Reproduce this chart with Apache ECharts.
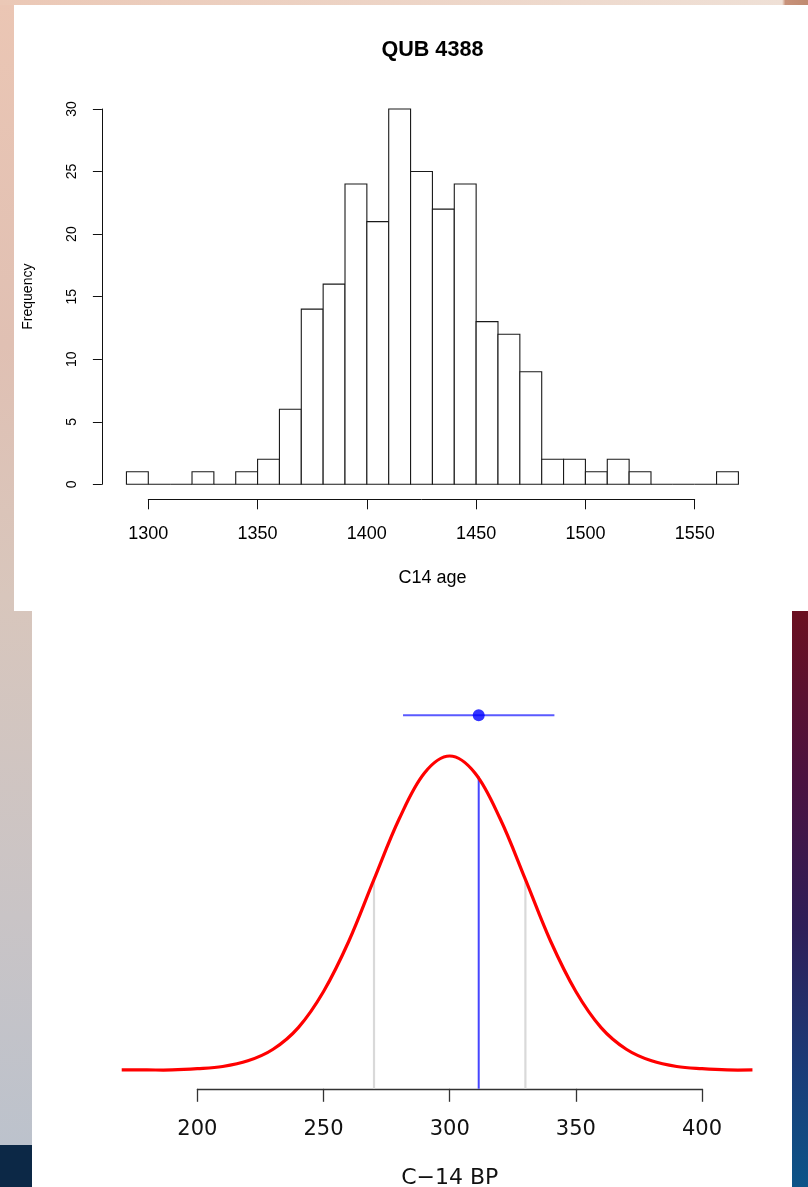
<!DOCTYPE html>
<html><head><meta charset="utf-8">
<script src="https://cdn.jsdelivr.net/npm/echarts@6/dist/echarts.min.js"></script>
<style>html,body{margin:0;padding:0;background:#fff;overflow:hidden}#c{width:808px;height:1187px}</style>
</head><body><div id="c"></div>
<script>
// ---------- data: histogram (top) ----------
const binStarts = [1290,1300,1310,1320,1330,1340,1350,1360,1370,1380,1390,1400,1410,1420,1430,1440,1450,1460,1470,1480,1490,1500,1510,1520,1530,1540,1550,1560];
const binWidth = 10;
const counts    = [1,0,0,1,0,1,2,6,14,16,24,21,30,25,22,24,13,12,9,2,2,1,2,1,0,0,0,1];
const histXTicks = [1300,1350,1400,1450,1500,1550];
const histYTicks = [0,5,10,15,20,25,30];

// ---------- data: C-14 curve (bottom), heights read relative to peak ----------
const curveX = [170,180,190,200,210,220,230,240,250,260,270,280,290,300,310,320,330,340,350,360,370,380,390,400,410,420];
const curveY = [0.00,0.00,0.00,0.004,0.011,0.029,0.066,0.135,0.25,0.41,0.607,0.80,0.946,1.00,0.946,0.80,0.607,0.41,0.25,0.135,0.066,0.029,0.011,0.004,0.00,0.00];
const bpTicks = [200,250,300,350,400];
const sigmaLinesX = [270,330];
const sigmaLinesTop = [0.606,0.606];
const measuredBP = 311.5;
const measuredErr = 30;
const measuredLineTop = 0.935;
const errorBarLevel = 1.13;
const bpYMin = -0.06, bpYMax = 1.2;

const chart = echarts.init(document.getElementById('c'), null, {renderer:'canvas'});

const topFont = 'Liberation Sans, Arial, Helvetica, sans-serif';
const botFont = 'DejaVu Sans, Verdana, sans-serif';

const bg = [
  {type:'rect', z:-10, shape:{x:0,y:0,width:32,height:1145},
   style:{fill:new echarts.graphic.LinearGradient(0,0,0,1,[
     {offset:0,color:'#ebc6b4'},{offset:0.3,color:'#e0c0b3'},{offset:0.52,color:'#d8c6bc'},
     {offset:0.8,color:'#c9c4c6'},{offset:1,color:'#bcc2cc'}])}},
  {type:'rect', z:-10, shape:{x:0,y:1145,width:32,height:42}, style:{fill:'#0c2846'}},
  {type:'rect', z:-10, shape:{x:0,y:0,width:808,height:5},
   style:{fill:new echarts.graphic.LinearGradient(0,0,1,0,[
     {offset:0,color:'#ebc8b6'},{offset:0.968,color:'#efe0d6'},{offset:0.972,color:'#c8927a'},{offset:1,color:'#c08a70'}])}},
  {type:'rect', z:-10, shape:{x:792,y:611,width:16,height:576},
   style:{fill:new echarts.graphic.LinearGradient(0,0,0,1,[
     {offset:0,color:'#6a1020'},{offset:0.3,color:'#4a1240'},{offset:0.55,color:'#2e1e58'},
     {offset:0.8,color:'#1a3c78'},{offset:1,color:'#0c5488'}])}},
  {type:'rect', z:-9, shape:{x:14,y:5,width:794,height:606}, style:{fill:'#ffffff'}},
  {type:'rect', z:-9, shape:{x:32,y:611,width:760,height:576}, style:{fill:'#ffffff'}}
];

const option = {
  animation:false,
  backgroundColor:'transparent',
  graphic: bg,
  title:{
    text:'QUB 4388', left:427.4, top:34, textAlign:'center',
    textStyle:{fontFamily:topFont, fontSize:21.6, fontWeight:'bold', color:'#000'}
  },
  grid:[
    {left:148.3, top:109, width:546.4, height:375.3, outerBoundsMode:'none', containLabel:false},
    {left:197.4, top:693.2, width:504.6, height:395.6, outerBoundsMode:'none', containLabel:false}
  ],
  xAxis:[
    {type:'value', gridIndex:0, min:histXTicks[0], max:histXTicks[histXTicks.length-1], interval:50,
     offset:15,
     axisLine:{show:true, onZero:false, lineStyle:{color:'#111', width:1}},
     axisTick:{show:true, length:10, lineStyle:{color:'#111', width:1}},
     axisLabel:{show:true, margin:26, fontFamily:topFont, fontSize:18, color:'#000',
       formatter:v=>String(v)},
     splitLine:{show:false},
     name:'C14 age', nameLocation:'middle', nameGap:70,
     nameTextStyle:{fontFamily:topFont, fontSize:18, color:'#000', padding:[0,0,0,22]}
    },
    {type:'value', gridIndex:1, min:bpTicks[0], max:bpTicks[bpTicks.length-1], interval:50,
     axisLine:{show:true, onZero:false, lineStyle:{color:'#333', width:1.3}},
     axisTick:{show:true, length:13, lineStyle:{color:'#333', width:1.3}},
     axisLabel:{show:true, margin:30, fontFamily:botFont, fontSize:21, color:'#111'},
     splitLine:{show:false},
     name:'C\u221214 BP', nameLocation:'middle', nameGap:78,
     nameTextStyle:{fontFamily:botFont, fontSize:22, color:'#111'}
    }
  ],
  yAxis:[
    {type:'value', gridIndex:0, min:histYTicks[0], max:histYTicks[histYTicks.length-1], interval:5,
     offset:46.4,
     axisLine:{show:true, onZero:false, lineStyle:{color:'#111', width:1}},
     axisTick:{show:true, length:9, lineStyle:{color:'#111', width:1}},
     axisLabel:{show:true, rotate:90, margin:23, fontFamily:topFont, fontSize:14, color:'#000'},
     splitLine:{show:false},
     name:'Frequency', nameLocation:'middle', nameRotate:90, nameGap:67,
     nameTextStyle:{fontFamily:topFont, fontSize:14, color:'#000'}
    },
    {type:'value', gridIndex:1, min:bpYMin, max:bpYMax, show:false, splitLine:{show:false}}
  ],
  series:[
    {type:'custom', xAxisIndex:0, yAxisIndex:0, clip:false,
     data: binStarts.map((s,i)=>[s, counts[i]]),
     renderItem:function(params, api){
       const x0 = api.value(0), c = api.value(1);
       const p0 = api.coord([x0, c]);
       const p1 = api.coord([x0+binWidth, 0]);
       return {type:'rect',
         shape:{x:p0[0], y:p0[1], width:p1[0]-p0[0], height:p1[1]-p0[1]},
         style:{fill:'#ffffff', stroke:'#1a1a1a', lineWidth:1.1}};
     }
    },
    // sigma lines
    ...sigmaLinesX.map((x,i)=>({type:'line', xAxisIndex:1, yAxisIndex:1, clip:false, silent:true,
      showSymbol:false, symbol:'none', data:[[x,bpYMin],[x,sigmaLinesTop[i]]],
      lineStyle:{color:'#d9d9d9', width:2.2}, z:2})),
    // measured line
    {type:'line', xAxisIndex:1, yAxisIndex:1, clip:false, symbol:'none',
     data:[[measuredBP,bpYMin],[measuredBP,measuredLineTop]],
     lineStyle:{color:'#4646ff', width:2}, z:3},
    // curve (custom so it may run past the 200-400 axis span, like the original)
    {type:'custom', xAxisIndex:1, yAxisIndex:1, clip:false, z:4,
     data: curveX.map((x,i)=>[x, curveY[i]]),
     renderItem:function(params, api){
       if (params.dataIndex !== 0) return null;
       const pts = curveX.map((x,i)=>api.coord([x, curveY[i]]));
       return {type:'polyline', shape:{points:pts, smooth:0.35},
         style:{stroke:'#ff0000', lineWidth:3.2, fill:null, lineJoin:'round'}};
     }
    },
    // error bar
    {type:'line', xAxisIndex:1, yAxisIndex:1, clip:false, symbol:'none',
     data:[[measuredBP-measuredErr, errorBarLevel],[measuredBP+measuredErr, errorBarLevel]],
     lineStyle:{color:'#5a5aff', width:2}, z:5},
    {type:'scatter', xAxisIndex:1, yAxisIndex:1, clip:false, symbol:'circle', symbolSize:12,
     data:[[measuredBP, errorBarLevel]], itemStyle:{color:'#0000ff'}, z:6}
  ]
};
chart.setOption(option);
</script>
</body></html>
